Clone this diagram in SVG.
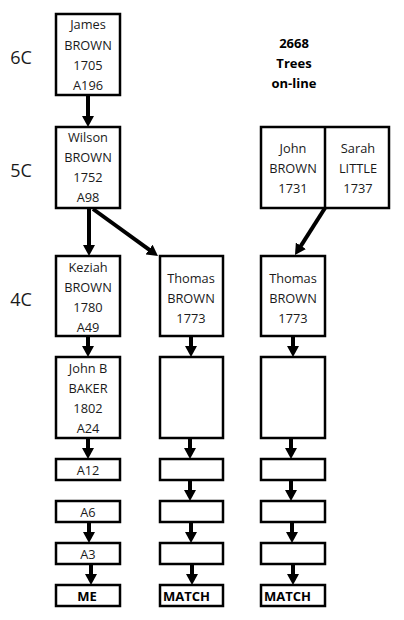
<svg xmlns="http://www.w3.org/2000/svg" width="404" height="620" viewBox="0 0 404 620">
<style>
.box{fill:#fff;stroke:#000;stroke-width:2.5}
.t{font-family:"Open Sans","Liberation Sans",sans-serif;font-size:12.8px;text-anchor:middle;fill:#1a1a1a}
.b{font-family:"Open Sans","Liberation Sans",sans-serif;font-size:13px;font-weight:bold;text-anchor:middle;fill:#000}
.bl{font-family:"Open Sans","Liberation Sans",sans-serif;font-size:13px;font-weight:bold;fill:#000}
.gen{font-family:"Open Sans","Liberation Sans",sans-serif;font-size:18px;text-anchor:middle;fill:#1a1a1a}
.c line{stroke:#000;stroke-width:4;marker-end:url(#ah)}
</style>
<defs>
<marker id="ah" markerUnits="userSpaceOnUse" markerWidth="12" markerHeight="12" refX="3" refY="6" orient="auto">
<path d="M0,0 L11,6 L0,12 z" fill="#000"/>
</marker>
</defs>
<rect width="404" height="620" fill="#fff"/>
<text class="gen" x="21" y="64">6C</text>
<text class="gen" x="21" y="177">5C</text>
<text class="gen" x="21" y="306">4C</text>
<g id="online">
<text class="b" x="294" y="48">2668</text>
<text class="b" x="294" y="68">Trees</text>
<text class="b" x="294" y="88">on-line</text>
</g>
<g id="james"><rect class="box" x="56" y="14" width="64" height="81"/>
<text class="t" x="88" y="29">James</text><text class="t" x="88" y="50">BROWN</text><text class="t" x="88" y="70">1705</text><text class="t" x="88" y="90">A196</text></g>
<g id="wilson"><rect class="box" x="56" y="127" width="64" height="81"/>
<text class="t" x="88" y="142">Wilson</text><text class="t" x="88" y="162">BROWN</text><text class="t" x="88" y="182">1752</text><text class="t" x="88" y="202">A98</text></g>
<g id="johnsarah"><rect class="box" x="261" y="127" width="128" height="81"/>
<line x1="325" y1="127" x2="325" y2="208" stroke="#000" stroke-width="2.5"/>
<text class="t" x="293" y="153">John</text><text class="t" x="293" y="173">BROWN</text><text class="t" x="293" y="193">1731</text>
<text class="t" x="358" y="153">Sarah</text><text class="t" x="358" y="173">LITTLE</text><text class="t" x="358" y="193">1737</text></g>
<g id="keziah"><rect class="box" x="56" y="256" width="64" height="80"/>
<text class="t" x="88" y="272">Keziah</text><text class="t" x="88" y="292">BROWN</text><text class="t" x="88" y="312">1780</text><text class="t" x="88" y="332">A49</text></g>
<g id="thomas1"><rect class="box" x="160" y="256" width="63" height="80"/>
<text class="t" x="191" y="283">Thomas</text><text class="t" x="191" y="303">BROWN</text><text class="t" x="191" y="323">1773</text></g>
<g id="thomas2"><rect class="box" x="261" y="256" width="64" height="80"/>
<text class="t" x="293" y="283">Thomas</text><text class="t" x="293" y="303">BROWN</text><text class="t" x="293" y="323">1773</text></g>
<g id="johnb"><rect class="box" x="56" y="357" width="64" height="81"/>
<text class="t" x="88" y="373">John B</text><text class="t" x="88" y="393">BAKER</text><text class="t" x="88" y="413">1802</text><text class="t" x="88" y="433">A24</text></g>
<g id="m1"><rect class="box" x="160" y="357" width="63" height="81"/></g>
<g id="r1"><rect class="box" x="261" y="357" width="64" height="81"/></g>
<g id="a12"><rect class="box" x="56" y="459" width="64" height="21"/><text class="t" x="88" y="475">A12</text></g>
<g id="m2"><rect class="box" x="160" y="459" width="63" height="21"/></g>
<g id="r2"><rect class="box" x="261" y="459" width="64" height="21"/></g>
<g id="a6"><rect class="box" x="56" y="501" width="64" height="21"/><text class="t" x="88" y="517">A6</text></g>
<g id="m3"><rect class="box" x="160" y="501" width="63" height="21"/></g>
<g id="r3"><rect class="box" x="261" y="501" width="64" height="21"/></g>
<g id="a3"><rect class="box" x="56" y="543" width="64" height="21"/><text class="t" x="88" y="559">A3</text></g>
<g id="m4"><rect class="box" x="160" y="543" width="63" height="21"/></g>
<g id="r4"><rect class="box" x="261" y="543" width="64" height="21"/></g>
<g id="me"><rect class="box" x="56" y="585" width="64" height="21"/><text class="b" x="87" y="601">ME</text></g>
<g id="match1"><rect class="box" x="160" y="585" width="63" height="21"/><text class="bl" x="163" y="601">MATCH</text></g>
<g id="match2"><rect class="box" x="261" y="585" width="64" height="21"/><text class="bl" x="264" y="601">MATCH</text></g>
<g id="connectors" class="c">
<line x1="88" y1="96" x2="88" y2="119"/>
<line x1="89" y1="209" x2="89" y2="248"/>
<line x1="93" y1="209" x2="151.5" y2="251.3"/>
<line x1="325" y1="208" x2="299.3" y2="248.3"/>
<line x1="88" y1="337" x2="88" y2="349"/>
<line x1="191" y1="337" x2="191" y2="349"/>
<line x1="293" y1="337" x2="293" y2="349"/>
<line x1="88" y1="439" x2="88" y2="451"/>
<line x1="190" y1="439" x2="190" y2="451"/>
<line x1="291" y1="439" x2="291" y2="451"/>
<line x1="190" y1="481" x2="190" y2="493"/>
<line x1="291" y1="481" x2="291" y2="493"/>
<line x1="89" y1="523" x2="89" y2="535"/>
<line x1="191" y1="523" x2="191" y2="535"/>
<line x1="292" y1="523" x2="292" y2="535"/>
<line x1="91" y1="565" x2="91" y2="577"/>
<line x1="192" y1="565" x2="192" y2="577"/>
<line x1="293" y1="565" x2="293" y2="577"/>
</g>
</svg>
